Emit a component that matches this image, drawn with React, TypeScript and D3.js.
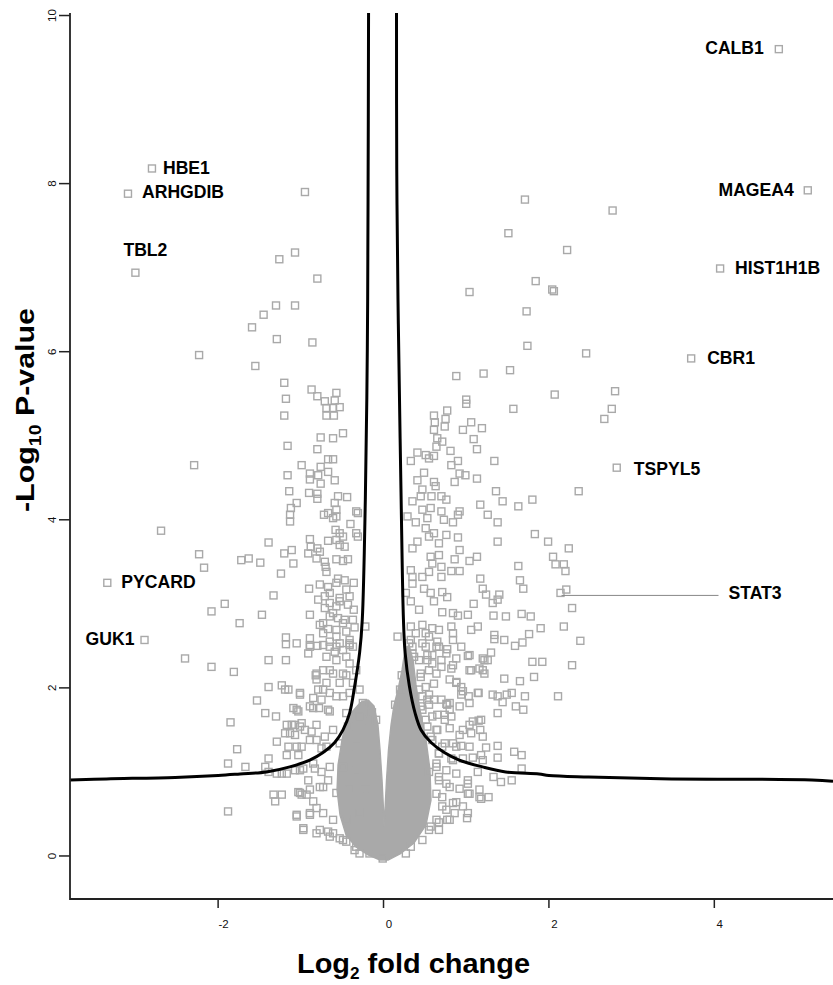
import React from 'react';
import * as d3 from 'd3';

const W = 833;
const H = 985;

// ---- labelled genes (log2 fold change, -log10 p) ----
const geneNames = ['CALB1', 'MAGEA4', 'HIST1H1B', 'CBR1', 'TSPYL5', 'STAT3', 'HBE1', 'ARHGDIB', 'TBL2', 'PYCARD', 'GUK1'];
const geneLfc = [4.78, 5.13, 4.07, 3.72, 2.82, 2.14, -2.8, -3.09, -3.0, -3.34, -2.89];
const geneLogP = [9.6, 7.92, 6.99, 5.92, 4.62, 3.13, 8.18, 7.88, 6.94, 3.25, 2.57];

// ---- axis ticks ----
const xTicks = [-2, 0, 2, 4];
const yTicks = [0, 2, 4, 6, 8, 10];

// ---- significance threshold curve ----
const curveLeft = [[-0.181, 10.03], [-0.187, 7.81], [-0.196, 6.02], [-0.22, 4.24], [-0.257, 2.81], [-0.289, 2.42], [-0.349, 2.02], [-0.41, 1.7], [-0.49, 1.5], [-0.59, 1.35], [-0.731, 1.23], [-0.892, 1.14], [-1.133, 1.06], [-1.414, 1.0], [-1.735, 0.976], [-2.0, 0.958], [-2.52, 0.935], [-3.35, 0.917], [-3.79, 0.905]];
const curveRight = [[0.157, 10.03], [0.16, 8.17], [0.175, 6.62], [0.184, 6.02], [0.213, 4.24], [0.241, 2.81], [0.261, 2.42], [0.313, 2.02], [0.382, 1.7], [0.454, 1.5], [0.575, 1.35], [0.735, 1.23], [0.916, 1.14], [1.196, 1.06], [1.478, 1.0], [1.88, 0.976], [2.0, 0.958], [2.48, 0.94], [3.35, 0.92], [5.18, 0.905], [5.435, 0.89]];

// ---- outline of the saturated (fully overlapping) core of points, with its central V gap ----
const denseCore = [[-0.381, 1.714], [-0.284, 1.821], [-0.187, 1.857], [-0.115, 1.785], [-0.067, 1.559], [-0.042, 1.262], [-0.018, 0.904], [0.0, 0.547], [0.006, 0.357], [0.018, 0.547], [0.036, 0.904], [0.06, 1.262], [0.091, 1.559], [0.127, 1.797], [0.175, 1.976], [0.224, 2.214], [0.26, 2.452], [0.308, 2.511], [0.357, 2.333], [0.393, 2.035], [0.441, 1.738], [0.514, 1.381], [0.562, 1.023], [0.574, 0.666], [0.514, 0.369], [0.369, 0.155], [0.2, 0.024], [0.054, -0.048], [-0.042, -0.048], [-0.187, 0.012], [-0.333, 0.107], [-0.453, 0.25], [-0.526, 0.488], [-0.562, 0.785], [-0.55, 1.083], [-0.502, 1.381], [-0.453, 1.595]];

// ---- other genes ----
const rightUpper = [[1.71, 7.81], [2.77, 7.68], [2.22, 7.21], [1.84, 6.84], [2.04, 6.74], [2.06, 6.72], [1.73, 6.48], [1.74, 6.07], [2.45, 5.98], [2.07, 5.49], [2.8, 5.53], [1.51, 7.41], [1.04, 6.71], [0.88, 5.71], [1.21, 5.74], [1.53, 5.78], [1.0, 5.43], [2.76, 5.32], [2.67, 5.2], [1.57, 5.32], [1.0, 5.38]];

const rightMid = [[0.77, 5.3], [0.61, 5.24], [0.75, 5.2], [0.62, 5.16], [0.74, 5.11], [0.61, 5.07], [0.96, 5.07], [1.06, 5.16], [1.19, 5.09], [1.09, 4.96], [0.65, 4.97], [0.71, 4.93], [0.64, 4.87], [0.81, 4.82], [1.13, 4.84], [0.41, 4.8], [0.51, 4.77], [0.61, 4.76], [0.55, 4.73], [0.33, 4.7], [0.9, 4.7], [0.82, 4.65], [1.34, 4.7], [0.49, 4.56], [0.92, 4.55], [0.99, 4.53], [0.41, 4.47], [0.61, 4.45], [0.86, 4.45], [1.13, 4.49], [0.63, 4.4], [0.47, 4.36], [1.36, 4.34], [0.7, 4.28], [0.58, 4.28], [0.45, 4.28], [0.76, 4.24], [0.35, 4.22], [1.44, 4.22], [1.8, 4.24], [1.17, 4.18], [1.63, 4.16], [2.36, 4.34], [0.47, 4.12], [0.57, 4.14], [0.7, 4.1], [0.92, 4.1], [0.9, 4.06], [0.29, 4.04], [0.39, 3.97], [0.53, 4.02], [0.73, 4.0], [0.84, 3.97], [1.26, 4.06], [1.38, 3.97], [0.51, 3.9], [0.61, 3.84], [0.55, 3.8], [0.76, 3.82], [0.9, 3.79], [1.83, 3.83], [1.99, 3.74], [2.24, 3.66], [0.41, 3.74], [0.35, 3.66], [0.67, 3.72], [1.38, 3.74], [0.92, 3.64], [0.67, 3.58], [0.57, 3.56], [0.86, 3.53], [1.04, 3.51], [1.13, 3.56], [2.05, 3.56], [2.08, 3.47], [2.18, 3.47], [2.2, 3.39], [1.63, 3.45], [0.59, 3.48], [0.7, 3.44], [0.33, 3.4], [0.55, 3.38], [0.82, 3.39], [0.92, 3.39], [0.47, 3.32], [0.35, 3.32], [0.7, 3.32], [1.17, 3.3], [1.65, 3.28], [1.69, 3.18], [1.2, 3.18], [1.4, 3.11], [1.38, 3.05], [1.32, 3.01], [1.24, 3.11], [2.21, 3.17], [2.28, 2.95], [0.35, 3.24], [0.49, 3.18], [0.57, 3.13], [0.71, 3.14], [0.77, 3.08], [0.61, 3.03], [1.09, 3.0], [0.27, 3.13], [0.33, 3.03], [0.43, 2.93], [0.71, 2.9], [0.84, 2.89], [0.9, 2.86], [1.02, 2.87], [1.33, 2.86], [1.48, 2.85], [1.67, 2.88], [1.78, 2.85], [2.18, 2.73], [1.9, 2.71], [1.76, 2.64], [1.68, 2.54], [1.59, 2.5], [1.46, 2.57], [1.34, 2.63], [1.34, 2.58], [1.14, 2.73], [1.06, 2.69], [0.82, 2.73], [0.84, 2.65], [2.38, 2.56], [0.47, 2.75], [0.59, 2.71], [0.39, 2.65], [0.55, 2.61], [0.65, 2.55], [0.17, 2.61], [0.31, 2.53], [0.51, 2.49], [0.77, 2.46], [1.02, 2.38], [0.88, 2.35], [1.3, 2.42], [1.26, 2.33], [1.22, 2.33], [1.8, 2.31], [1.92, 2.31], [2.28, 2.27], [0.43, 2.33], [0.59, 2.29], [0.7, 2.25], [0.82, 2.23], [1.04, 2.21], [1.16, 2.23], [1.22, 2.17], [1.46, 2.11], [1.65, 2.08], [1.82, 2.13], [0.88, 2.07], [0.94, 2.01], [0.94, 1.92], [1.03, 1.9], [1.15, 1.94], [1.32, 1.92], [1.38, 1.9], [1.49, 1.92], [1.55, 1.94], [1.71, 1.9], [2.11, 1.9], [1.44, 1.83], [1.6, 1.78], [1.69, 1.74], [1.38, 1.7], [0.61, 1.86], [0.76, 1.81], [0.8, 1.74], [0.65, 1.68]];

const rightLower = [[1.15, 1.61], [1.04, 1.56], [1.17, 1.5], [0.92, 1.44], [0.84, 1.34], [0.94, 1.31], [1.24, 1.29], [1.38, 1.31], [1.58, 1.24], [1.67, 1.2], [1.38, 1.17], [1.08, 1.17], [1.2, 1.14], [0.84, 1.14], [1.67, 1.04], [1.42, 0.88], [1.55, 0.9], [1.33, 0.94], [1.02, 0.86], [1.16, 0.79], [1.02, 0.74], [1.18, 0.68], [1.27, 0.7], [0.88, 0.64], [1.02, 0.51], [0.86, 0.51], [0.67, 0.4], [0.57, 0.35], [0.47, 0.19], [0.33, 0.11], [0.77, 0.43], [0.71, 0.59], [0.64, 0.74], [0.76, 0.86], [0.67, 0.94], [0.55, 1.0], [0.64, 1.1], [0.67, 1.22], [0.71, 1.3], [0.57, 1.42], [0.64, 1.5], [0.51, 1.62], [0.45, 1.78], [0.55, 1.8], [0.77, 1.8], [0.82, 1.66], [0.74, 1.62], [0.47, 1.9], [0.53, 1.86], [0.51, 2.01], [0.61, 2.05], [0.45, 2.13], [0.55, 2.21], [0.53, 2.33], [0.59, 2.39], [0.76, 2.41], [0.67, 2.49], [0.35, 2.41], [0.33, 2.57], [0.51, 2.65], [0.67, 2.69], [0.84, 2.57], [0.94, 2.49], [0.33, 2.73], [1.01, 0.45], [0.35, 2.49], [0.47, 2.53], [0.64, 2.49], [0.37, 2.37], [0.53, 2.39], [0.7, 2.33], [0.84, 2.27], [1.04, 2.39], [1.06, 2.21], [1.2, 2.35], [1.2, 2.21], [0.45, 2.17], [0.64, 2.17], [0.8, 2.1], [0.88, 2.06], [0.96, 1.96], [1.14, 1.94], [0.43, 1.98], [0.55, 1.92], [0.7, 1.86], [0.8, 1.82], [0.92, 1.78], [1.04, 1.82], [0.47, 1.74], [0.59, 1.66], [0.74, 1.68], [1.08, 1.6], [1.18, 1.62], [0.53, 1.54], [0.65, 1.5], [0.8, 1.52], [0.96, 1.5], [1.06, 1.46], [1.2, 1.42], [0.59, 1.38], [0.74, 1.34], [0.88, 1.3], [1.04, 1.3], [1.18, 1.2], [0.67, 1.22], [0.82, 1.16], [0.96, 1.16], [0.64, 1.06], [0.76, 1.02], [0.88, 0.98], [1.02, 0.9], [1.14, 1.0], [0.67, 0.9], [0.8, 0.82], [0.92, 0.8], [1.04, 0.74], [1.16, 0.7], [0.71, 0.7], [0.84, 0.63], [0.96, 0.59], [0.76, 0.55], [0.64, 0.43], [0.8, 0.43], [0.55, 0.31], [0.67, 0.31], [0.27, 0.03], [0.14, 1.8], [0.2, 1.98], [0.22, 2.15]];

const leftUpper = [[-0.95, 7.9], [-1.07, 7.18], [-1.26, 7.1], [-0.8, 6.87], [-1.3, 6.55], [-1.07, 6.55], [-1.45, 6.44], [-1.59, 6.29], [-1.29, 6.15], [-0.86, 6.11], [-2.23, 5.96]];

const leftMid = [[-1.55, 5.83], [-1.2, 5.63], [-1.18, 5.44], [-1.2, 5.24], [-0.87, 5.55], [-0.8, 5.47], [-0.71, 5.41], [-0.57, 5.51], [-0.59, 5.42], [-0.69, 5.33], [-0.53, 5.34], [-0.61, 5.33], [-0.69, 5.24], [-0.6, 5.24], [-0.49, 5.03], [-0.76, 4.98], [-0.61, 4.97], [-1.16, 4.88], [-0.8, 4.84], [-0.67, 4.72], [-0.61, 4.72], [-0.99, 4.65], [-0.76, 4.63], [-1.16, 4.53], [-0.89, 4.55], [-0.79, 4.53], [-0.67, 4.57], [-0.89, 4.48], [-0.76, 4.43], [-0.59, 4.47], [-1.14, 4.34], [-0.9, 4.32], [-0.8, 4.31], [-0.8, 4.25], [-0.55, 4.28], [-0.44, 4.27], [-1.05, 4.2], [-1.12, 4.14], [-0.59, 4.2], [-0.57, 4.12], [-1.13, 4.06], [-1.13, 3.98], [-0.72, 4.06], [-0.67, 4.08], [-0.61, 4.02], [-0.57, 4.04], [-0.33, 4.1], [-0.31, 4.08], [-0.4, 3.95], [-0.58, 3.88], [-0.53, 3.84], [-0.33, 3.84], [-0.31, 3.8], [-1.39, 3.73], [-0.89, 3.77], [-0.67, 3.75], [-0.57, 3.76], [-0.49, 3.8], [-0.88, 3.68], [-0.8, 3.66], [-0.53, 3.7], [-0.47, 3.68], [-1.2, 3.6], [-1.11, 3.64], [-0.91, 3.6], [-0.77, 3.62], [-1.72, 3.52], [-1.63, 3.54], [-1.49, 3.49], [-1.09, 3.48], [-0.81, 3.54], [-0.71, 3.5], [-0.57, 3.53], [-0.43, 3.53], [-0.49, 3.51], [-0.7, 3.44], [-0.69, 3.38], [-1.24, 3.36], [-0.55, 3.3], [-0.47, 3.28], [-0.36, 3.25], [-0.9, 3.18], [-0.77, 3.23], [-0.67, 3.2], [-0.65, 3.13], [-0.71, 3.09], [-0.45, 3.17], [-1.33, 3.1], [-0.79, 3.05], [-0.65, 3.01], [-0.53, 3.03], [-0.43, 2.99], [-0.36, 2.93], [-1.47, 2.87], [-0.89, 2.87], [-0.71, 2.95], [-0.61, 2.89], [-0.55, 2.83], [-0.47, 2.81], [-1.74, 2.77], [-0.77, 2.75], [-0.67, 2.7], [-0.57, 2.69], [-0.45, 2.67], [-0.35, 2.72], [-0.22, 2.73], [-1.18, 2.6], [-1.18, 2.52], [-0.89, 2.59], [-0.89, 2.51], [-0.65, 2.55], [-0.53, 2.53], [-0.41, 2.53], [-0.57, 3.25], [-0.53, 3.07], [-0.41, 3.09], [-0.57, 2.97], [-0.65, 2.85], [-0.73, 2.77], [-0.49, 2.77], [-0.37, 2.81], [-0.73, 2.65], [-0.57, 2.61], [-0.41, 2.57]];

const leftFar = [[-2.29, 4.65], [-2.69, 3.87], [-2.23, 3.59], [-2.17, 3.43], [-1.92, 3.0], [-2.08, 2.91], [-2.4, 2.35], [-2.08, 2.25], [-1.81, 2.19], [-1.85, 1.59], [-1.77, 1.27], [-1.88, 1.1], [-1.88, 0.53], [-1.39, 1.0], [-1.39, 2.33], [-1.18, 2.33], [-1.39, 2.01], [-1.53, 1.85], [-1.23, 2.03], [-1.19, 1.98], [-1.01, 1.92]];

const leftLower = [[-0.65, 2.49], [-0.49, 2.45], [-0.37, 2.49], [-0.69, 2.37], [-0.57, 2.33], [-0.41, 2.29], [-0.73, 2.21], [-0.61, 2.17], [-0.45, 2.15], [-0.81, 2.1], [-0.69, 2.06], [-0.53, 2.06], [-0.37, 2.06], [-0.79, 1.98], [-0.65, 1.94], [-0.49, 1.9], [-0.85, 1.88], [-0.29, 1.98], [-0.25, 1.82], [-0.91, 2.41], [-0.8, 2.5], [-0.59, 2.43], [-0.45, 2.37], [-1.15, 1.98], [-0.82, 2.15], [-0.75, 1.86], [-0.85, 1.76], [-0.78, 1.76], [-0.67, 1.74], [-1.43, 1.7], [-1.3, 1.66], [-1.09, 1.76], [-1.03, 1.72], [-0.99, 1.58], [-1.17, 1.56], [-1.11, 1.56], [-1.07, 1.56], [-1.19, 1.46], [-1.13, 1.46], [-1.07, 1.44], [-0.95, 1.5], [-0.87, 1.48], [-1.29, 1.36], [-1.15, 1.3], [-0.99, 1.3], [-1.03, 1.2], [-1.17, 1.2], [-0.81, 1.38], [-0.71, 1.42], [-0.75, 1.28], [-1.39, 1.16], [-1.67, 1.06], [-1.43, 1.06], [-1.29, 0.98], [-1.23, 0.98], [-1.17, 0.98], [-1.07, 1.02], [-0.97, 1.04], [-0.91, 0.9], [-0.83, 1.04], [-0.75, 1.0], [-0.67, 0.9], [-0.77, 0.82], [-1.33, 0.73], [-1.31, 0.65], [-1.23, 0.73], [-1.03, 0.76], [-0.99, 0.73], [-0.93, 0.73], [-0.85, 0.65], [-0.81, 0.57], [-1.05, 0.47], [-0.89, 0.49], [-0.97, 0.33], [-0.77, 0.31], [-0.67, 0.29], [-0.53, 0.21], [-0.61, 0.27], [-0.45, 0.17], [-0.35, 0.07], [-0.29, 0.03], [-1.05, 2.53], [-0.89, 2.49], [-0.73, 2.51], [-0.57, 2.49], [-0.41, 2.51], [-0.81, 2.17], [-0.65, 2.21], [-0.49, 2.17], [-0.33, 2.21], [-1.01, 1.94], [-0.73, 1.98], [-0.57, 1.9], [-0.41, 1.94], [-1.05, 1.74], [-0.89, 1.78], [-0.65, 1.72], [-0.45, 1.7], [-0.29, 1.66], [-0.17, 1.62], [-0.09, 1.62], [-1.01, 1.54], [-0.81, 1.56], [-0.61, 1.5], [-0.43, 1.54], [-1.05, 1.3], [-0.89, 1.38], [-0.69, 1.3], [-0.53, 1.34], [-0.33, 1.3], [-1.01, 1.02], [-0.85, 1.1], [-0.65, 1.06], [-0.49, 1.06], [-0.33, 1.02], [-1.01, 0.75], [-0.89, 0.79], [-0.73, 0.82], [-0.57, 0.75], [-0.41, 0.79], [-0.21, 0.79], [-1.05, 0.49], [-0.89, 0.51], [-0.73, 0.51], [-0.61, 0.43], [-0.45, 0.43], [-0.29, 0.51], [-0.97, 0.31], [-0.81, 0.27], [-0.65, 0.23], [-0.49, 0.19], [-0.33, 0.11], [-0.17, 0.03], [-0.01, -0.03], [-0.22, 1.8], [-0.14, 1.71]];

// label placement (layout, not data)
const labelLayout: Record<string, { anchor: string; dx: number; dy: number; leader?: number }> = {
  CALB1: { anchor: 'end', dx: -15, dy: -1.5 },
  MAGEA4: { anchor: 'end', dx: -14, dy: 0 },
  HIST1H1B: { anchor: 'start', dx: 15, dy: 0 },
  CBR1: { anchor: 'start', dx: 16, dy: -0.7 },
  TSPYL5: { anchor: 'start', dx: 17, dy: 1 },
  STAT3: { anchor: 'start', dx: 168, dy: 0, leader: 158 },
  HBE1: { anchor: 'start', dx: 11, dy: 0 },
  ARHGDIB: { anchor: 'start', dx: 14, dy: -2 },
  TBL2: { anchor: 'start', dx: -12, dy: -22.6 },
  PYCARD: { anchor: 'start', dx: 14, dy: -0.7 },
  GUK1: { anchor: 'end', dx: -10, dy: -0.7 },
};

const FONT = "'Liberation Sans', Arial, Helvetica, sans-serif";
const GREY = '#a9a9a9';

export default function App() {
  const x = d3.scaleLinear().domain([-3.791, 5.435]).range([70, 833]);
  const y = d3.scaleLinear().domain([-0.512, 10.03]).range([899, 13]);

  const curveLine = d3
    .line<number[]>()
    .x((d) => x(d[0]))
    .y((d) => y(d[1]))
    .curve(d3.curveCatmullRom.alpha(0.5));

  const coreArea = d3
    .line<number[]>()
    .x((d) => x(d[0]))
    .y((d) => y(d[1]))
    .curve(d3.curveLinearClosed);

  const allPoints = [
    ...leftLower,
    ...rightLower,
    ...leftMid,
    ...rightMid,
    ...leftFar,
    ...leftUpper,
    ...rightUpper,
    ...geneLfc.map((v, i) => [v, geneLogP[i]]),
  ];

  const S = 7;

  return (
    <svg
      width={W}
      height={H}
      viewBox={`0 0 ${W} ${H}`}
      style={{ position: 'absolute', left: 0, top: 0, background: '#fff' }}
      fontFamily={FONT}
    >
      <rect x={0} y={0} width={W} height={H} fill="#fff" />

      {/* saturated core */}
      <path d={coreArea(denseCore) || ''} fill={GREY} stroke={GREY} strokeWidth={1.4} strokeLinejoin="round" />

      {/* points */}
      <g fill="none" stroke={GREY} strokeWidth={1.4}>
        {allPoints.map((d, i) => (
          <rect key={i} x={x(d[0]) - S / 2} y={y(d[1]) - S / 2} width={S} height={S} />
        ))}
      </g>

      {/* threshold curve */}
      <path d={curveLine(curveLeft) || ''} fill="none" stroke="#000" strokeWidth={3} />
      <path d={curveLine(curveRight) || ''} fill="none" stroke="#000" strokeWidth={3} />

      {/* axes */}
      <path d={`M${x.range()[0]},${y.range()[1]}V${y.range()[0]}H${x.range()[1]}`} fill="none" stroke="#222" strokeWidth={1.8} />
      {yTicks.map((t) => (
        <g key={'y' + t}>
          <line x1={59} x2={70} y1={y(t)} y2={y(t)} stroke="#222" strokeWidth={1.5} />
          <text
            transform={`translate(56,${y(t)}) rotate(-90)`}
            textAnchor="middle"
            fontSize={11.5}
            fill="#111"
          >
            {t}
          </text>
        </g>
      ))}
      {xTicks.map((t) => (
        <g key={'x' + t}>
          <line x1={x(t)} x2={x(t)} y1={899} y2={908} stroke="#222" strokeWidth={1.5} />
          <text x={x(t) + 5.5} y={928} textAnchor="middle" fontSize={11.5} fill="#111">
            {t}
          </text>
        </g>
      ))}

      {/* axis titles */}
      <text x={297} y={973} fontSize={27} fontWeight="bold" fill="#000" textLength={233} lengthAdjust="spacingAndGlyphs">
        Log<tspan fontSize={16} dy={6}>2</tspan>
        <tspan dy={-6}> fold change</tspan>
      </text>
      <text
        transform="translate(34,512) rotate(-90)"
        fontSize={25}
        fontWeight="bold"
        fill="#000"
        textLength={204}
        lengthAdjust="spacingAndGlyphs"
      >
        -Log<tspan fontSize={16} dy={7}>10</tspan>
        <tspan dy={-7}> P-value</tspan>
      </text>

      {/* gene labels */}
      {geneNames.map((g, i) => {
        const L = labelLayout[g];
        const px = x(geneLfc[i]);
        const py = y(geneLogP[i]);
        return (
          <g key={g}>
            {L.leader ? (
              <line x1={px + 1} x2={px + L.leader} y1={py + 2.5} y2={py + 2.5} stroke="#888" strokeWidth={1} />
            ) : null}
            <text
              x={px + L.dx}
              y={py + L.dy}
              textAnchor={L.anchor as any}
              dominantBaseline="central"
              fontSize={17.6}
              fontWeight="bold"
              fill="#000"
            >
              {g}
            </text>
          </g>
        );
      })}
    </svg>
  );
}
